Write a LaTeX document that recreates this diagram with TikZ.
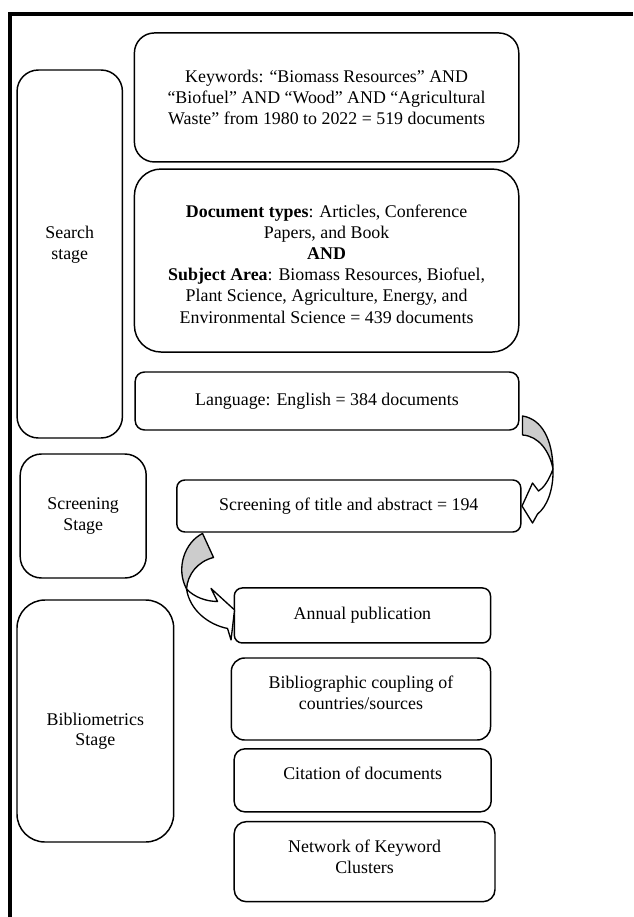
\documentclass[tikz,border=0pt]{standalone}
\usepackage{fontspec}
\setmainfont{Liberation Serif}
\usepackage{tikz}
\usetikzlibrary{shapes.geometric, arrows}
\tikzstyle{stepbox} = [rectangle, rounded corners=6pt, draw=black, line width=1.1pt, text centered, align=center, inner sep=0pt]
\tikzstyle{stagebox} = [stepbox, rounded corners=16pt]
\tikzstyle{bendback} = [draw=black, line width=1pt, line join=round, fill=black!20]
\tikzstyle{bendfront} = [draw=black, line width=1pt, line join=round, fill=white]
\tikzstyle{frameline} = [line width=3pt]

\begin{document}
\begin{tikzpicture}[node distance=61pt, font=\fontsize{13.4pt}{15.5pt}\selectfont]
\useasboundingbox (0,0) rectangle (474.75pt,-687.75pt);
\draw [frameline] (7.7pt,-687.75pt) |- (474.75pt,-10.3pt);

% search steps
\node (kw) [stepbox, rounded corners=15pt, minimum width=288.3pt, minimum height=96.75pt] at (244.95pt,-73.1pt) {Keywords: “Biomass Resources” AND\\ “Biofuel” AND “Wood” AND “Agricultural\\ Waste” from 1980 to 2022 = 519 documents};
\node (doc) [stepbox, rounded corners=20pt, minimum width=288.3pt, minimum height=137.25pt, text height=94pt, font=\fontsize{13.4pt}{15.9pt}\selectfont, below of=kw, yshift=-61.3pt] {\textbf{Document types}: Articles, Conference\\ Papers, and Book\\ \textbf{AND}\\ \textbf{Subject Area}: Biomass Resources, Biofuel,\\ Plant Science, Agriculture, Energy, and\\ Environmental Science = 439 documents};
\node (lang) [stepbox, rounded corners=7pt, minimum width=287.7pt, minimum height=43.5pt, below of=doc, yshift=-44.35pt, xshift=0.3pt] {Language: English = 384 documents};
\node (screen) [stepbox, minimum width=258pt, minimum height=39pt, below of=lang, yshift=-17.75pt, xshift=16.35pt] {Screening of title and abstract = 194};

% bibliometric steps
\node (annual) [stepbox, minimum width=192.2pt, minimum height=41.25pt, below of=screen, yshift=-21.1pt, xshift=10.2pt] {Annual publication};
\node (coupling) [stepbox, rounded corners=10pt, minimum width=194.4pt, minimum height=61.5pt, text depth=9pt, below of=annual, yshift=-1.65pt, xshift=-1.1pt] {Bibliographic coupling of\\ countries/sources};
\node (citation) [stepbox, rounded corners=8pt, minimum width=192.75pt, minimum height=47.25pt, text depth=11pt, below of=coupling, xshift=1.3pt] {Citation of documents};
\node (network) [stepbox, rounded corners=9pt, minimum width=195.6pt, minimum height=60pt, text depth=7pt, below of=citation, xshift=1.45pt] {Network of Keyword\\ Clusters};

% stages
\node (search) [stagebox, minimum width=79pt, minimum height=276pt, text depth=16.5pt, left of=doc, xshift=-131.65pt, yshift=4.9pt] {Search\\ stage};
\node (screening) [stagebox, minimum width=94.5pt, minimum height=93pt, below of=search, yshift=-135.5pt, xshift=10.1pt] {Screening\\ Stage};
\node (biblio) [stagebox, rounded corners=21pt, minimum width=117.5pt, minimum height=181.5pt, text height=40pt, below of=screening, yshift=-92.75pt, xshift=9.1pt] {Bibliometrics\\ Stage};

% curved arrows
\begin{scope}[shift={(screen.east)}, x=0.75pt, y=-0.75pt]
\draw [bendback] (1,-90) .. controls (20,-87) and (31,-67) .. (31.5,-37) .. controls (28,-55) and (17,-70) .. (1,-71) -- cycle;
\draw [bendfront] (31.5,-37) .. controls (27,-25) and (22,-18) .. (17,-15) -- (11,-23) -- (0.5,0) -- (11,17) -- (16,8) .. controls (25,1) and (32,-15) .. (31.5,-37) -- cycle;
\end{scope}
\begin{scope}[shift={(annual.west)}, x=0.75pt, y=-0.75pt]
\draw [bendback] (-31,-82) .. controls (-49,-73) and (-58,-47) .. (-47,-26.5) .. controls (-46,-41) and (-36,-54) .. (-20,-58) -- cycle;
\draw [bendfront] (-47,-26.5) .. controls (-39,-18) and (-27,-14) .. (-16,-14) -- (-22.5,-27) -- (1,-5.5) -- (-2.5,24.5) -- (-6,13) .. controls (-26,9) and (-44,-6) .. (-47,-26.5) -- cycle;
\end{scope}
\end{tikzpicture}
\end{document}
